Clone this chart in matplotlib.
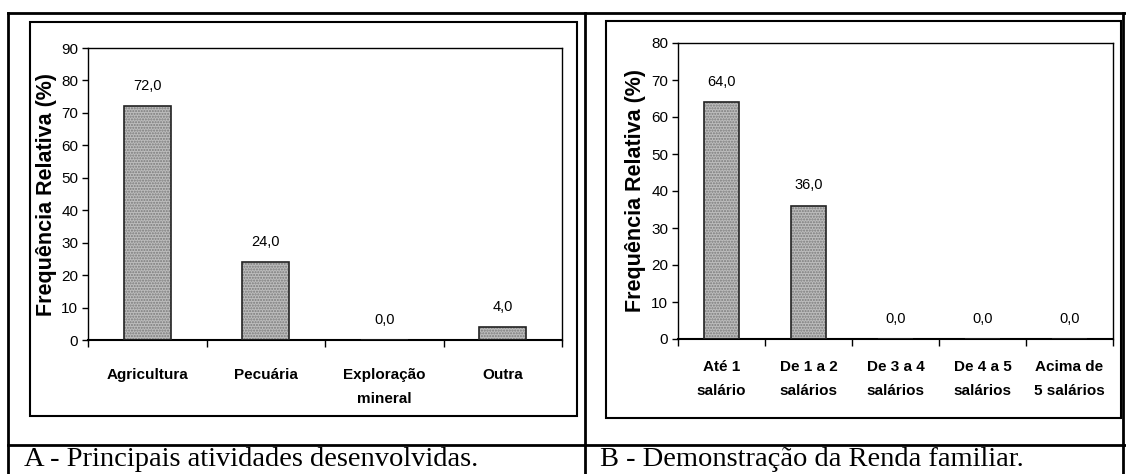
import matplotlib.pyplot as plt
from matplotlib.lines import Line2D
from matplotlib.patches import Rectangle
from matplotlib import font_manager

W, H = 1126, 474

cats_a = ["Agricultura", "Pecuária", "Exploração\nmineral", "Outra"]
vals_a = [72.0, 24.0, 0.0, 4.0]
cats_b = ["Até 1\nsalário", "De 1 a 2\nsalários", "De 3 a 4\nsalários",
          "De 4 a 5\nsalários", "Acima de\n5 salários"]
vals_b = [64.0, 36.0, 0.0, 0.0, 0.0]
caption_a = "A - Principais atividades desenvolvidas."
caption_b = "B - Demonstração da Renda familiar."

names = {f.name for f in font_manager.fontManager.ttflist}
NARROW = ["Liberation Sans Narrow", "Liberation Sans", "DejaVu Sans"]
if "Liberation Sans Narrow" not in names:
    NARROW = ["Liberation Sans", "DejaVu Sans"]
SANS = ["Liberation Sans", "DejaVu Sans"]
SERIF = ["Liberation Serif", "DejaVu Serif"]


def fx(x):
    return x / W


def fy(y):
    return 1 - y / H


def line(fig, x0, y0, x1, y1, lw=2.0, color="black"):
    fig.add_artist(Line2D([fx(x0), fx(x1)], [fy(y0), fy(y1)], lw=lw, color=color))


def box(fig, x0, y0, x1, y1, lw=1.5):
    fig.add_artist(Rectangle((fx(x0), fy(y1)), fx(x1 - x0), (y1 - y0) / H,
                             fill=False, lw=lw, edgecolor="black"))


def draw_bars(ax, cats, vals, ymax, ystep, xpad, label_x):
    n = len(cats)
    x = list(range(n))
    # stippled grey fill, then dark outline on top
    ax.bar(x, vals, width=0.4, color="#bdbdbd", hatch="......",
           edgecolor="#7a7a7a", linewidth=0, zorder=2)
    ax.bar(x, vals, width=0.4, fill=False, edgecolor="#222222",
           linewidth=1.2, zorder=3)
    for xi, v in zip(x, vals):
        ax.text(xi, v + ymax * 0.045, f"{v:.1f}".replace(".", ","),
                ha="center", va="bottom", fontsize=10.5, family=NARROW)
    ax.set_xlim(-0.5, n - 0.5)
    ax.set_ylim(0, ymax)
    ax.set_yticks(range(0, ymax + 1, ystep))
    ax.set_xticks([i - 0.5 for i in range(n + 1)])
    ax.set_xticklabels([])
    ax.set_xticks(x, minor=True)
    ax.set_xticklabels(cats, minor=True, fontsize=11, fontweight="bold",
                       family=NARROW, linespacing=1.9)
    ax.tick_params(axis="x", which="major", direction="out", length=5, width=1)
    ax.tick_params(axis="x", which="minor", length=0, pad=xpad)
    ax.tick_params(axis="y", direction="out", length=4, width=1, pad=3,
                   labelsize=11)
    for lab in ax.get_yticklabels():
        lab.set_family(NARROW)
    for sp in ax.spines.values():
        sp.set_linewidth(1.0)
    ax.spines["bottom"].set_linewidth(1.5)
    ax.set_ylabel("Frequência Relativa (%)", fontsize=15.5, fontweight="bold",
                  family=SANS)
    ax.yaxis.set_label_coords(label_x, 0.5)


fig = plt.figure(figsize=(W / 100, H / 100), dpi=100)

# table frame
line(fig, 8, 13, W, 13)
line(fig, 8, 13, 8, H)
line(fig, 585, 13, 585, H)
line(fig, 8, 445, W, 445)
line(fig, 1123, 13, 1123, H)

# chart frames
box(fig, 30, 22, 577, 416)
box(fig, 606, 21, 1121, 418)

ax_a = fig.add_axes([fx(88), fy(340), fx(562 - 88), (340 - 48) / H])
draw_bars(ax_a, cats_a, vals_a, 90, 10, 20, (57 - 88) / (562 - 88))

ax_b = fig.add_axes([fx(678), fy(339), fx(1113 - 678), (339 - 43) / H])
draw_bars(ax_b, cats_b, vals_b, 80, 10, 15, (646 - 678) / (1113 - 678))

fig.text(fx(24), fy(459), caption_a, fontsize=20.5, family=SERIF, va="center")
fig.text(fx(600), fy(459), caption_b, fontsize=20.5, family=SERIF, va="center")

fig.savefig("out.png", dpi=100)
